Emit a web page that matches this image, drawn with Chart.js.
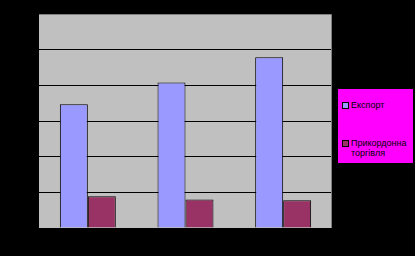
<!DOCTYPE html>
<html>
<head>
<meta charset="utf-8">
<script src="https://cdn.jsdelivr.net/npm/chart.js@4"></script>
<style>
    html, body { margin: 0; padding: 0; background: #000; }
    #wrap { position: relative; width: 415px; height: 256px; }
    #legendBox {
        position: absolute; left: 338px; top: 89px; width: 75px; height: 74px;
        background: #FF00FF; font-family: "Liberation Sans", Arial, sans-serif;
        font-size: 9px; color: #000;
    }
    .item { position: absolute; left: 4px; width: 70px; line-height: 10px; }
    .item .sw {
        position: absolute; left: 0; top: 2px; width: 5px; height: 5px;
        border: 1px solid #000;
    }
    .item .txt { position: absolute; left: 9px; top: 0; width: 62px; }
</style>
</head>
<body>
<div id="wrap">
    <canvas id="chart" width="415" height="256"></canvas>
    <div id="legendBox"></div>
</div>
<script>
// categories (axis labels are black on black in the original)
const categories = ['1', '2', '3'];
const seriesNames = ['Експорт', 'Прикордонна торгівля'];
const exportValues = [3.47, 4.08, 4.79];
const borderTradeValues = [0.89, 0.80, 0.78];
const yTicks = [0, 1, 2, 3, 4, 5, 6];
const seriesColors = ['#9999FF', '#993366'];

// gray plot area with a darker frame on top and right
const plotBackground = {
    id: 'plotBackground',
    beforeDraw(chart) {
        const a = chart.chartArea;
        const c = chart.ctx;
        c.save();
        c.fillStyle = '#C0C0C0';
        c.fillRect(a.left, a.top, a.right - a.left, a.bottom - a.top);
        c.restore();
    },
    afterDatasetsDraw(chart) {
        const a = chart.chartArea;
        const c = chart.ctx;
        c.save();
        c.strokeStyle = '#808080';
        c.lineWidth = 1;
        c.beginPath();
        c.moveTo(a.left, a.top + 0.5);
        c.lineTo(a.right - 0.5, a.top + 0.5);
        c.lineTo(a.right - 0.5, a.bottom);
        c.stroke();
        c.restore();
    }
};

const chart = new Chart(document.getElementById('chart'), {
    type: 'bar',
    data: {
        labels: categories,
        datasets: [
            {
                label: seriesNames[0],
                data: exportValues,
                backgroundColor: seriesColors[0],
                borderColor: '#000',
                borderWidth: 1
            },
            {
                label: seriesNames[1],
                data: borderTradeValues,
                backgroundColor: seriesColors[1],
                borderColor: '#000',
                borderWidth: 1
            }
        ]
    },
    options: {
        responsive: false,
        animation: false,
        layout: { padding: { left: 39, right: 83, top: 14, bottom: 28 } },
        categoryPercentage: 0.573,
        barPercentage: 1.0,
        plugins: {
            legend: { display: false },
            tooltip: { enabled: false }
        },
        scales: {
            x: {
                grid: { display: false, drawTicks: false },
                border: { display: false },
                ticks: { display: false }
            },
            y: {
                min: yTicks[0],
                max: yTicks[yTicks.length - 1],
                afterBuildTicks: (axis) => { axis.ticks = yTicks.map(v => ({ value: v })); },
                grid: { color: '#000', drawTicks: false, lineWidth: 1 },
                border: { display: false },
                ticks: { display: false }
            }
        }
    },
    plugins: [plotBackground]
});

// legend on magenta box
const legendBox = document.getElementById('legendBox');
const itemTops = [11, 49];
seriesNames.forEach((name, i) => {
    const item = document.createElement('div');
    item.className = 'item';
    item.style.top = itemTops[i] + 'px';
    item.innerHTML = '<span class="sw" style="background:' + seriesColors[i] + '"></span>' +
        '<span class="txt">' + name + '</span>';
    legendBox.appendChild(item);
});
</script>
</body>
</html>
